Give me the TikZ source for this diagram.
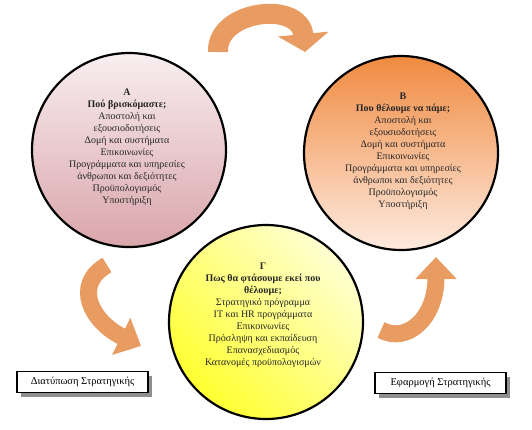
\documentclass[tikz,border=0pt]{standalone}
\usepackage{fontspec}
\setmainfont{Liberation Serif}
\usetikzlibrary{arrows.meta}
\usetikzlibrary{shadows}
\usetikzlibrary{positioning}

\definecolor{roseTop}{HTML}{F8EEF0}
\definecolor{roseBot}{HTML}{D9A5AA}
\definecolor{peachTop}{HTML}{F08A40}
\definecolor{peachBot}{HTML}{FDEBE0}
\definecolor{lemonTop}{HTML}{FFFFD2}
\definecolor{lemonBot}{HTML}{FFFF30}
\definecolor{arrowOrange}{HTML}{E99C62}

\begin{document}
\begin{tikzpicture}[x=1pt, y=-1pt,
    bubble/.style={circle, draw=black, line width=2.2pt, minimum size=2*\radius, inner sep=0pt},
    bubbletext/.style={align=center, inner sep=0pt, text=black!85, font=\fontsize{10}{12}\selectfont},
    stagebox/.style={draw=black, line width=1.6pt, fill=white, minimum width=131pt, minimum height=21pt,
      inner sep=0pt, font=\fontsize{10.5}{12}\selectfont,
      drop shadow={shadow xshift=4pt, shadow yshift=-4pt, fill=black!55, opacity=0.8}},
    cyclearrow/.style={draw=arrowOrange, line width=#1}]
        % Define the radius of the three circles
        \def\radius{97pt}

        \useasboundingbox (0,0) rectangle (532,429);

        % Draw the three circles
        \node[bubble, top color=roseTop, bottom color=roseBot] (A) at (129,150) {};
        \node[bubble, top color=peachTop, bottom color=peachBot] (B) at (401,153) {};
        \node[bubble, top color=lemonTop, bottom color=lemonBot, shading angle=-45] (G) at (266,322) {};

        % Texts inside the circles
        \node[bubbletext, xshift=-2pt, yshift=2.5pt] (Atext) at (A.center) {%
          \textbf{Α}\\ \textbf{Πού βρισκόμαστε;}\\ Αποστολή και\\ εξουσιοδοτήσεις\\
          Δομή και συστήματα\\ Επικοινωνίες\\ Προγράμματα και υπηρεσίες\\
          άνθρωποι και δεξιότητες\\ Προϋπολογισμός\\ Υποστήριξη};
        \node[bubbletext, xshift=2pt, yshift=1.5pt] (Btext) at (B.center) {%
          \textbf{Β}\\ \textbf{Που θέλουμε να πάμε;}\\ Αποστολή και\\ εξουσιοδοτήσεις\\
          Δομή και συστήματα\\ Επικοινωνίες\\ Προγράμματα και υπηρεσίες\\
          άνθρωποι και δεξιότητες\\ Προϋπολογισμός\\ Υποστήριξη};
        \node[bubbletext, xshift=-3pt, yshift=7pt] (Gtext) at (G.center) {%
          \textbf{Γ}\\ \textbf{Πως θα φτάσουμε εκεί που}\\ \textbf{θέλουμε;}\\
          Στρατηγικό πρόγραμμα\\ IT και HR προγράμματα\\ Επικοινωνίες\\
          Πρόσληψη και εκπαίδευση\\ Επανασχεδιασμός\\ Κατανομές προϋπολογισμών};

        % Boxes with the two phases
        \node[stagebox] (form) at (82.5,382) {Διατύπωση Στρατηγικής};
        \node[stagebox] (impl) at (440.5,383) {Εφαρμογή Στρατηγικής};

        % End points of the bent arrows
        \coordinate (topTail) at (218,52);
        \coordinate (topTip) at (305,52);
        \coordinate (leftTail) at (107,265);
        \coordinate (leftTip) at (141,346);
        \coordinate (rightTail) at (381,330);
        \coordinate (rightTip) at (436,257);

        % Draw the bent arrows
        \draw[cyclearrow=20pt, -{Triangle[width=50pt, length=18pt]}] (topTail) .. controls (216,10) and (300,0) .. (topTip);
        \draw[cyclearrow=17pt, -{Triangle[width=40pt, length=22pt]}] (leftTail) .. controls (72,285) and (92,322) .. (leftTip);
        \draw[cyclearrow=17pt, -{Triangle[width=40pt, length=22pt]}] (rightTail) .. controls (407,344) and (436,318) .. (rightTip);
      \end{tikzpicture}
\end{document}
